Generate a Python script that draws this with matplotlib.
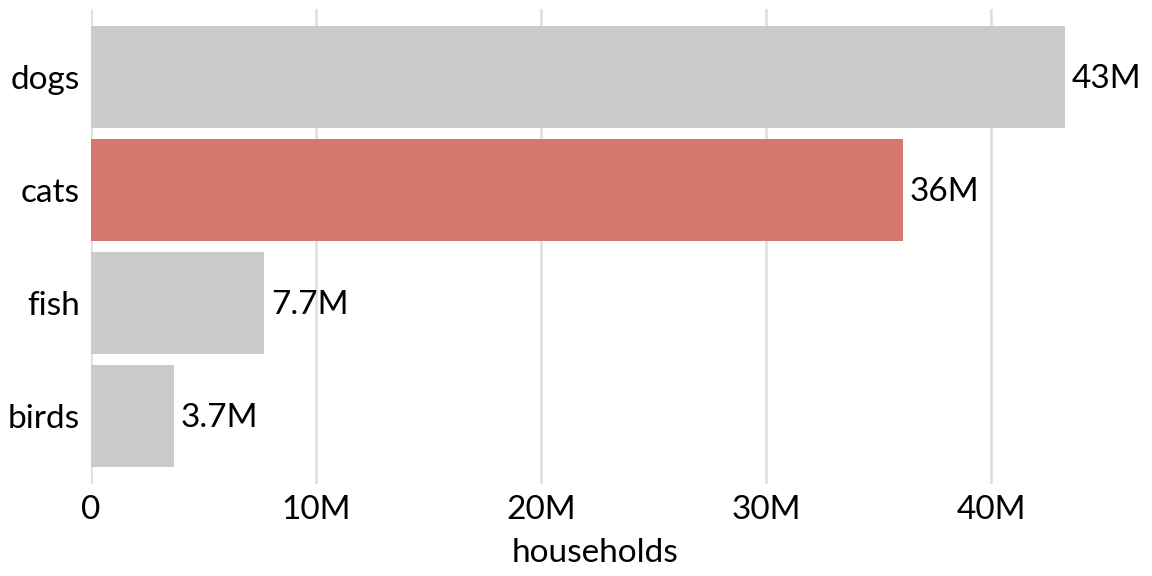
import matplotlib
matplotlib.use("Agg")
import matplotlib.pyplot as plt

animals = ["dogs", "cats", "fish", "birds"]
households = [43.3, 36.1, 7.7, 3.7]  # millions
value_labels = ["43M", "36M", "7.7M", "3.7M"]
highlight = "cats"

xticks = [0, 10, 20, 30, 40]
xtick_labels = ["0", "10M", "20M", "30M", "40M"]

plt.rcParams["font.family"] = ["Lato", "DejaVu Sans"]

fig = plt.figure(figsize=(11.52, 5.76), dpi=100)
W, H = 1152, 576
left, right, top, bottom = 91, 1100, 9, 484
ax = fig.add_axes([left / W, 1 - bottom / H, (right - left) / W, (bottom - top) / H])

ypos = list(range(len(animals)))[::-1]
colors = ["#d5776a" if a == highlight else "#cbcbcb" for a in animals]
ax.barh(ypos, households, height=0.9, color=colors, zorder=2)

for y, v, lab in zip(ypos, households, value_labels):
    ax.text(v + 0.3, y - 0.02, lab, va="center", ha="left", fontsize=24, color="black", clip_on=False)

ax.set_xlim(0, (right - left) / 22.5)
ax.set_ylim(-0.6, len(animals) - 0.4)
ax.set_xticks(xticks)
ax.set_xticklabels(xtick_labels)
ax.set_yticks(ypos)
ax.set_yticklabels(animals)
ax.tick_params(axis="both", length=0, labelsize=24, colors="black")
ax.tick_params(axis="x", pad=8)
ax.tick_params(axis="y", pad=8)
ax.grid(axis="x", color="#dddddd", linewidth=1.8, zorder=0)
ax.set_axisbelow(True)
for s in ax.spines.values():
    s.set_visible(False)
ax.set_xlabel("households", fontsize=24, labelpad=9)

fig.savefig("out.png", dpi=100)
